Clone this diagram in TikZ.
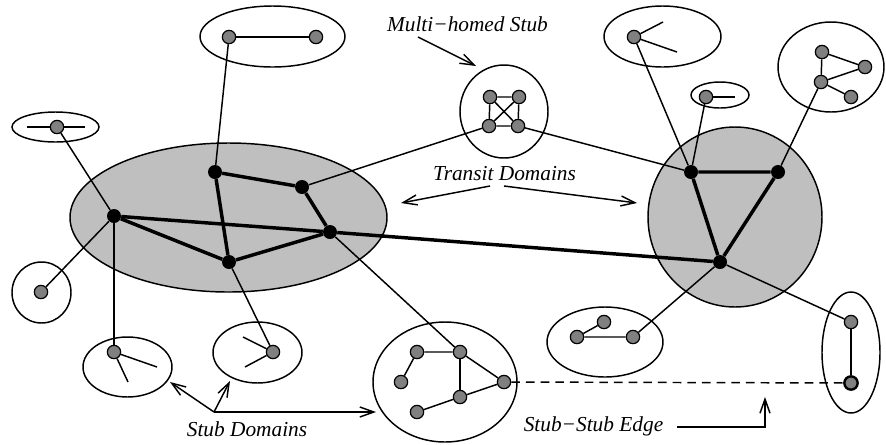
\documentclass[tikz,border=0pt]{standalone}
\usepackage{fontspec}
\setmainfont{Liberation Serif}
\usetikzlibrary{shapes.geometric,arrows.meta}
\definecolor{domgray}{gray}{0.75}
\definecolor{nodegray}{gray}{0.5}
\pgfdeclarelayer{domains}
\pgfdeclarelayer{links}
\pgfsetlayers{domains,links,main}
\begin{document}
\begin{tikzpicture}[x=0.75pt,y=-0.75pt,
  dom/.style={ellipse, draw, line width=1.1pt, inner sep=0pt},
  transit/.style={dom, fill=domgray},
  tnode/.style={circle, fill=black, inner sep=0pt, minimum size=10.5pt},
  snode/.style={circle, draw, fill=nodegray, line width=0.9pt, inner sep=0pt, minimum size=10pt},
  link/.style={line width=1.1pt},
  core/.style={line width=2.6pt},
  stubstub/.style={line width=1.1pt, dash pattern=on 6.5pt off 4.5pt},
  lbl/.style={font=\fontsize{16}{19}\selectfont\itshape, inner sep=0pt, anchor=base},
  pointer/.style={line width=1.1pt, -{Straight Barb[length=10.5pt,width=7.5pt]}}
]
\useasboundingbox (0,0) rectangle (886,444);

% ---------- domains ----------
\begin{pgfonlayer}{domains}
  \node[transit, minimum width=237.75pt, minimum height=111.75pt] (T1) at (228.5,217.5) {};
  \node[transit, minimum width=130.5pt, minimum height=135pt] (T2) at (735,217) {};
  \node[dom, minimum width=108.75pt, minimum height=45.75pt] (S1) at (272.5,36.5) {};
  \node[dom, minimum width=65.25pt, minimum height=22.5pt] (S2) at (55.5,127) {};
  \node[dom, minimum width=44.25pt, minimum height=45.75pt] (S3) at (41.5,292.5) {};
  \node[dom, minimum width=66.75pt, minimum height=45pt] (S4) at (127.5,367) {};
  \node[dom, minimum width=66.75pt, minimum height=45.75pt] (S5) at (257.5,352.5) {};
  \node[dom, minimum width=108pt, minimum height=90pt] (S6) at (445,382) {};
  \node[dom, minimum width=66pt, minimum height=69.75pt] (S7) at (504,111.5) {};
  \node[dom, minimum width=87.75pt, minimum height=45.75pt] (S8) at (662.5,36.5) {};
  \node[dom, minimum width=43.5pt, minimum height=19.5pt] (S9) at (720,95) {};
  \node[dom, minimum width=79.5pt, minimum height=67.5pt] (S10) at (831,67) {};
  \node[dom, minimum width=43.5pt, minimum height=90.75pt] (S11) at (851,352.5) {};
  \node[dom, minimum width=87pt, minimum height=52.5pt] (S12) at (605,342) {};
\end{pgfonlayer}

% ---------- transit routers ----------
\node[tnode] (A) at (114,216) {};
\node[tnode] (B) at (215,172) {};
\node[tnode] (C) at (302,187) {};
\node[tnode] (D) at (330,232) {};
\node[tnode] (E) at (229,262) {};
\node[tnode] (R1) at (691,172) {};
\node[tnode] (R2) at (778,172) {};
\node[tnode] (R3) at (720,262) {};

% ---------- stub routers ----------
\node[snode] (t1) at (229,37) {};
\node[snode] (t2) at (316,37) {};
\node[snode] (l1) at (57,127) {};
\coordinate (l1w) at (27,127);
\coordinate (l1e) at (85,127);
\node[snode] (c1) at (41,292) {};
\node[snode] (bl1) at (114,352) {};
\coordinate (bl1a) at (157,367);
\coordinate (bl1b) at (128,382);
\node[snode] (bm1) at (273,352) {};
\coordinate (bm1a) at (243,337);
\coordinate (bm1b) at (245,367);
\node[snode] (n1) at (417,352) {};
\node[snode] (n2) at (460,352) {};
\node[snode] (n3) at (401,382) {};
\node[snode] (n4) at (504,382) {};
\node[snode] (n5) at (460,397) {};
\node[snode] (n6) at (417,412) {};
\node[snode] (m1) at (490,97) {};
\node[snode] (m2) at (519,97) {};
\node[snode] (m3) at (489,126) {};
\node[snode] (m4) at (518,126) {};
\node[snode] (p1) at (634,37) {};
\coordinate (p1a) at (663,22);
\coordinate (p1b) at (677,52);
\node[snode] (q1) at (706,97) {};
\coordinate (q1a) at (735,97);
\node[snode] (r1) at (822,52) {};
\node[snode] (r2) at (865,67) {};
\node[snode] (r3) at (821,82) {};
\node[snode] (r4) at (851,97) {};
\node[snode] (v1) at (851,322) {};
\node[snode, line width=1.8pt] (v2) at (851,383) {};
\node[snode] (w1) at (577,337) {};
\node[snode] (w2) at (604,322) {};
\node[snode] (w3) at (633,337) {};

% ---------- links ----------
\begin{pgfonlayer}{links}
  % transit backbone
  \draw[core] (A) -- (D) -- (R3);
  \draw[core] (A) -- (E) -- (D) -- (C) -- (B) -- (E);
  \draw[core] (R1) -- (R2) -- (R3) -- (R1);
  % stub internals and access links
  \draw[link] (t1) -- (t2);
  \draw[link] (t1) -- (B);
  \draw[link] (l1w) -- (l1e);
  \draw[link] (l1) -- (A);
  \draw[link] (c1) -- (A);
  \draw[link] (bl1) -- (A);
  \draw[link] (bl1a) -- (bl1) -- (bl1b);
  \draw[link] (bm1) -- (E);
  \draw[link] (bm1a) -- (bm1) -- (bm1b);
  \draw[link] (n3) -- (n1) -- (n2) -- (n4) -- (n5) -- (n6);
  \draw[link] (n2) -- (n5);
  \draw[link] (n2) -- (D);
  \draw[link] (m1) -- (m2) -- (m4) -- (m3) -- (m1) -- (m4);
  \draw[link] (m2) -- (m3);
  \draw[link] (m3) -- (C);
  \draw[link] (m4) -- (R1);
  \draw[link] (p1a) -- (p1) -- (p1b);
  \draw[link] (p1) -- (R1);
  \draw[link] (q1) -- (q1a);
  \draw[link] (q1) -- (R1);
  \draw[link] (r1) -- (r2) -- (r3) -- (r1);
  \draw[link] (r3) -- (r4);
  \draw[link] (r3) -- (R2);
  \draw[link] (v1) -- (v2);
  \draw[link] (v1) -- (R3);
  \draw[link] (w2) -- (w1) -- (w3);
  \draw[link] (w3) -- (R3);
  \draw[stubstub] (n4) -- (v2);
\end{pgfonlayer}

% ---------- labels ----------
\node[lbl] (multi) at (467.5,31) {Multi−homed Stub};
\node[lbl] (transit) at (504.5,180) {Transit Domains};
\node[lbl] (stubs) at (247,436) {Stub Domains};
\node[lbl] (sse) at (593.5,431) {Stub−Stub Edge};

\coordinate (multiA) at (418,37);
\coordinate (multiB) at (476,66);
\draw[pointer] (multiA) -- (multiB);

\coordinate (trL0) at (490,186);
\coordinate (trL1) at (401,203);
\coordinate (trR0) at (504,186);
\coordinate (trR1) at (637,203);
\draw[pointer] (trL0) -- (trL1);
\draw[pointer] (trR0) -- (trR1);

\coordinate (sdJ) at (214,412);
\coordinate (sd1) at (170,382);
\coordinate (sd2) at (230,381);
\coordinate (sd3) at (376,412);
\draw[pointer] (sdJ) -- (sd1);
\draw[pointer] (sdJ) -- (sd2);
\draw[pointer] (sdJ) -- (sd3);

\coordinate (ss0) at (677,427);
\coordinate (ss1) at (765,427);
\coordinate (ss2) at (765,397);
\draw[pointer] (ss0) -- (ss1) -- (ss2);
\end{tikzpicture}
\end{document}
